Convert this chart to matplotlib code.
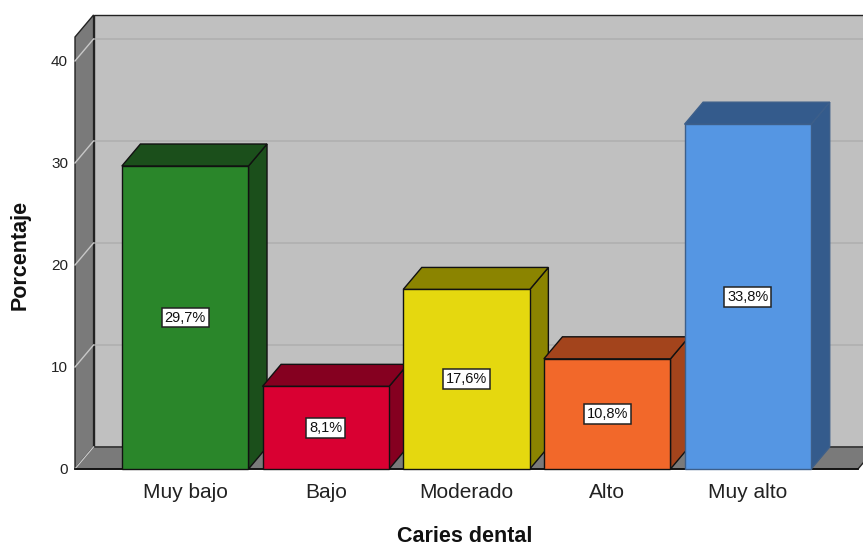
import matplotlib
matplotlib.use("Agg")
import matplotlib.pyplot as plt
from matplotlib.patches import Polygon, Rectangle

plt.rcParams['font.family'] = ['Liberation Sans', 'DejaVu Sans']

categories = ["Muy bajo", "Bajo", "Moderado", "Alto", "Muy alto"]
values = [29.7, 8.1, 17.6, 10.8, 33.8]
labels = ["29,7%", "8,1%", "17,6%", "10,8%", "33,8%"]
front_colors = ["#2a862a", "#d90032", "#e5d80f", "#f2682a", "#5596e3"]
side_colors = ["#1b4f1b", "#850020", "#8b8400", "#a3441c", "#345b8c"]
edge_colors = ["#111111", "#111111", "#111111", "#111111", "#3d5f8a"]
yticks = [0, 10, 20, 30, 40]

W, H = 863, 545
fig = plt.figure(figsize=(W / 100, H / 100), dpi=100)
L, R, B, T = 75, 858, 469, 37
ax = fig.add_axes([L / W, 1 - B / H, (R - L) / W, (B - T) / H])
x0, x1 = -0.783, 4.783
ymax = 42.35
ax.set_xlim(x0, x1)
ax.set_ylim(0, ymax)
dx, dy = 0.132, 2.16
bw = 0.9

# back wall
ax.add_patch(Rectangle((x0 + dx, dy), (x1 - x0) + 0.5, ymax, facecolor="#c0c0c0",
                       edgecolor="#222222", lw=1.0, clip_on=False, zorder=1))
for v in yticks[1:]:
    ax.plot([x0 + dx, x1 + dx + 0.5], [v + dy, v + dy], color="#b0b0b0", lw=1.2,
            clip_on=False, zorder=1.5)
# left wall
ax.add_patch(Polygon([(x0, 0), (x0 + dx, dy), (x0 + dx, ymax + dy), (x0, ymax)],
                     closed=True, facecolor="#7a7a7a", edgecolor="#222222", lw=1.0,
                     clip_on=False, zorder=2))
for v in yticks:
    ax.plot([x0, x0 + dx], [v, v + dy], color="#c8c8c8", lw=1.0, clip_on=False, zorder=2.5)
# floor
ax.add_patch(Polygon([(x0, 0), (x1, 0), (x1 + dx, dy), (x0 + dx, dy)], closed=True,
                     facecolor="#7a7a7a", edgecolor="#222222", lw=1.0, clip_on=False, zorder=2))
ax.plot([x0, x1], [0, 0], color="#111111", lw=1.3, clip_on=False, zorder=2.6)

# bars
for i, (v, fc, sc, ec, lab) in enumerate(zip(values, front_colors, side_colors, edge_colors, labels)):
    xl, xr = i - bw / 2, i + bw / 2
    z = 3 + i
    ax.add_patch(Polygon([(xr, 0), (xr + dx, dy), (xr + dx, v + dy), (xr, v)], closed=True,
                         facecolor=sc, edgecolor=ec, lw=1.0, clip_on=False, zorder=z))
    ax.add_patch(Polygon([(xl, v), (xr, v), (xr + dx, v + dy), (xl + dx, v + dy)], closed=True,
                         facecolor=sc, edgecolor=ec, lw=1.0, clip_on=False, zorder=z))
    ax.add_patch(Rectangle((xl, 0), bw, v, facecolor=fc, edgecolor=ec, lw=1.0,
                           clip_on=False, zorder=z + 0.1))
    ax.text(i, v / 2, lab, ha="center", va="center", fontsize=10.5, color="#111111", zorder=z + 0.2,
            bbox=dict(boxstyle="square,pad=0.2", facecolor="white", edgecolor="#222222", lw=1.1))

for s in ax.spines.values():
    s.set_visible(False)
ax.set_facecolor("none")
ax.set_yticks(yticks)
ax.set_yticklabels([str(t) for t in yticks], fontsize=11, color="#222222")
ax.set_xticks(range(len(categories)))
ax.set_xticklabels(categories, fontsize=15, color="#222222")
ax.tick_params(axis="y", length=0, pad=5)
ax.tick_params(axis="x", length=0, pad=10)
fig.text(20 / W, 1 - 255 / H, "Porcentaje", rotation=90, ha="center", va="center",
         fontsize=15.5, fontweight="bold", color="#111111")
fig.text(465 / W, 1 - 536 / H, "Caries dental", ha="center", va="center",
         fontsize=15.5, fontweight="bold", color="#111111")

fig.savefig("out.png", dpi=100)
